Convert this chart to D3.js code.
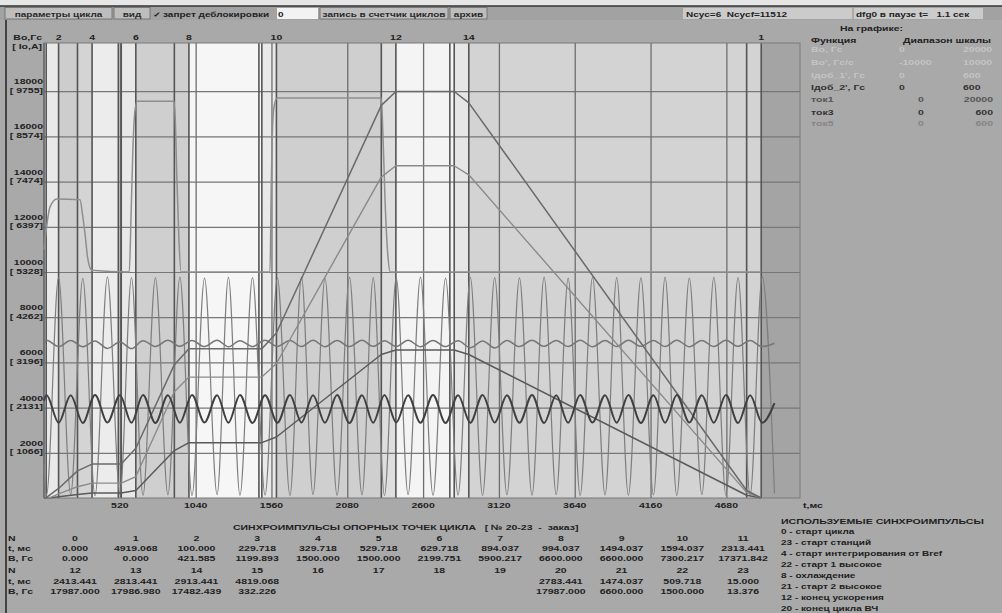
<!DOCTYPE html>
<html>
<head>
<meta charset="utf-8">
<script src="https://cdn.jsdelivr.net/npm/d3@7"></script>
<style>
  body { margin: 0; background: #a9a9a9; }
  svg text { font-family: "Liberation Sans", Arial, sans-serif; font-weight: bold; white-space: pre; }
</style>
</head>
<body>
<svg id="chart" width="1002" height="613"></svg>
<script>

////////////////////////// DATA //////////////////////////

// reference points of the cycle (table under the chart)
const syncN = [0, 1, 2, 3, 4, 5, 6, 7, 8, 9, 10, 11, 12, 13, 14, 15, 16, 17, 18, 19, 20, 21, 22, 23]
const syncT = [0.000, 4919.068, 100.000, 229.718, 329.718, 529.718, 629.718, 894.037, 994.037, 1494.037, 1594.037, 2313.441,
  2413.441, 2813.441, 2913.441, 4819.068, null, null, null, null, 2783.441, 1474.037, 509.718, 15.000]
const syncB = [0.000, 0.000, 421.585, 1199.893, 1500.000, 1500.000, 2199.751, 5900.217, 6600.000, 6600.000, 7300.217, 17371.842,
  17987.000, 17986.980, 17482.439, 332.226, null, null, null, null, 17987.000, 6600.000, 1500.000, 13.376]

// numbers written above the plot
const topMarks = [2, 4, 6, 8, 10, 12, 14, 1]

// axes
const xTicks = [520, 1040, 1560, 2080, 2600, 3120, 3640, 4160, 4680]
const yTicks = [2000, 4000, 6000, 8000, 10000, 12000, 14000, 16000, 18000]
const yCurrent = [1066, 2131, 3196, 4262, 5328, 6397, 7474, 8574, 9755]

// shaded intervals of the cycle
const bandFrom = [0, 100, 229.718, 329.718, 529.718, 629.718, 994.037, 1494.037, 1594.037, 2313.441, 2413.441, 2813.441, 2913.441, 4919.068]
const bandTo = [100, 229.718, 329.718, 529.718, 629.718, 994.037, 1494.037, 1594.037, 2313.441, 2413.441, 2813.441, 2913.441, 4919.068, 5185]

// Bo' pulses (scale -10000..10000)
const dBT = [0, 41, 87, 247, 265, 281, 300, 327, 585, 597, 610, 625, 640, 892, 900, 912, 925, 940,
  1550, 1558, 1568, 1580, 1600, 2313, 2325, 2340, 2360, 2375, 4919]
const dBV = [10970, 12870, 13230, 13200, 12500, 11700, 10600, 10080, 10000, 12500, 15500, 17200, 17560, 17560, 16800, 14000, 11500, 10000,
  10000, 13500, 16500, 17400, 17700, 17700, 16000, 13000, 10600, 10000, 10000]

// current curves
const rampT = [0, 41, 100, 230, 330, 530, 630, 894, 994, 1494, 1594, 2313, 2413, 2813, 2913, 4819, 4919]
const tok1V = [0, 20, 180, 500, 660, 660, 950, 4700, 5350, 5350, 5950, 14200, 14700, 14700, 14300, 250, 0]
const tok3V = [0, 10, 60, 160, 220, 220, 330, 2100, 2450, 2450, 2700, 6350, 6550, 6550, 6350, 120, 0]

// extrema of the oscillating signals
const waveT = [0, 17, 100, 183, 266, 350, 435, 521, 600, 679, 764, 850, 932, 1015, 1101, 1187, 1265, 1344, 1430, 1516,
  1601, 1687, 1766, 1845, 1927, 2010, 2095, 2181, 2258, 2335, 2416, 2497, 2582, 2668, 2754, 2840, 2924, 3008, 3091, 3175,
  3261, 3347, 3430, 3513, 3595, 3677, 3762, 3848, 3928, 4008, 4094, 4180, 4260, 4340, 4426, 4512, 4594, 4677, 4760, 4843, 4926, 5010]
const tok5V = [1500, 120, 9760, 150, 9720, 100, 9780, 160, 9750, 120, 9740, 140, 9770, 110, 9730, 150, 9760, 120, 9750, 130,
  9740, 110, 9770, 150, 9730, 120, 9760, 140, 9750, 110, 9740, 150, 9770, 120, 9730, 130, 9760, 110, 9750, 140,
  9740, 120, 9770, 150, 9730, 110, 9760, 130, 9750, 120, 9740, 140, 9770, 110, 9730, 150, 9760, 120, 9750, 130, 9780, 200]
const id2V = [6850, 6980, 6700, 6970, 6690, 6950, 6620, 6900, 6610, 6960, 6700, 6980, 6710, 6970, 6700, 6980, 6690, 6960, 6700, 6980,
  6710, 6970, 6700, 6980, 6690, 6970, 6700, 6980, 6710, 6960, 6700, 6980, 6690, 6970, 6700, 6960, 6650, 6950, 6640, 6970,
  6700, 6980, 6710, 6970, 6700, 6980, 6690, 6970, 6700, 6980, 6710, 6970, 6700, 6980, 6690, 6970, 6700, 6980, 6710, 6970, 6700, 6850]
const id1V = [4300, 4560, 3330, 4550, 3320, 4560, 3340, 4550, 3330, 4560, 3320, 4550, 3330, 4560, 3340, 4550, 3330, 4560, 3320, 4550,
  3330, 4560, 3340, 4550, 3330, 4560, 3320, 4550, 3330, 4560, 3340, 4550, 3330, 4560, 3320, 4550, 3330, 4560, 3340, 4550,
  3330, 4560, 3320, 4550, 3330, 4560, 3340, 4550, 3330, 4560, 3320, 4550, 3330, 4560, 3340, 4550, 3330, 4560, 3320, 4550, 3330, 4200]

// legend texts
const legendNames = ['Bo, Гс', "Bo', Гс/с", "Iдоб_1', Гс", "Iдоб_2', Гс", 'ток1', 'ток3', 'ток5']
const legendMin = ['0', '-10000', '0', '0', '0', '0', '0']
const legendMax = ['20000', '10000', '600', '600', '20000', '600', '600']
const usedPulses = ['0 - старт цикла', '23 - старт станций', '4 - старт интегрирования от Bref', '22 - старт 1 высокое',
  '8 - охлаждение', '21 - старт 2 высокое', '12 - конец ускорения', '20 - конец цикла ВЧ']


////////////////////////// STYLE //////////////////////////

const bandShade = ['#e9e9e9', '#cdcdcd', '#d4d4d4', '#ececec', '#e8e8e8', '#cfcfcf', '#f6f6f6', '#e9e9e9',
  '#cfcfcf', '#dedede', '#f4f4f4', '#e6e6e6', '#d3d3d3', '#a4a4a4']
const legendFill = ['#c4c4c4', '#c4c4c4', '#c4c4c4', '#333', '#555', '#333', '#858585']
const FS = 10.5
const SQUEEZE = 0.74


////////////////////////// SETUP //////////////////////////

const svg = d3.select('#chart')
const plotLeft = 44, plotRight = 800, plotTop = 43, plotBottom = 498

const xScale = d3.scaleLinear().domain([0, 5185]).range([plotLeft, plotRight])
const yScale = d3.scaleLinear().domain([0, 20000]).range([plotBottom, 46])

// text squeezed vertically like on the screenshot
const label = (g, x, y, str, anchor = 'start', fill = '#222', size = FS) =>
  g.append('text')
    .attr('transform', `translate(${x},${y}) scale(1,${SQUEEZE})`)
    .attr('text-anchor', anchor)
    .attr('fill', fill)
    .style('font-size', size + 'px')
    .text(str)

svg.append('rect').attr('width', 1002).attr('height', 613).attr('fill', '#a9a9a9')


////////////////////////// TOOLBAR //////////////////////////

svg.append('rect').attr('width', 1002).attr('height', 6).attr('fill', '#e6e6e6')
svg.append('line').attr('x1', 0).attr('x2', 1002).attr('y1', 6).attr('y2', 6).attr('stroke', '#333').attr('stroke-width', 1.5)
svg.append('rect').attr('x', 0).attr('y', 7).attr('width', 1002).attr('height', 13).attr('fill', '#a2a2a2')

const button = (x0, x1, txt, fill = '#bdbdbd') => {
  svg.append('rect').attr('x', x0).attr('y', 7.5).attr('width', x1 - x0).attr('height', 11.5)
    .attr('fill', fill).attr('stroke', '#6a6a6a').attr('stroke-width', 0.8)
  label(svg, (x0 + x1) / 2, 16.5, txt, 'middle', '#2a2a2a', 10)
}
button(5, 112, 'параметры цикла')
button(114, 150, 'вид')
button(320, 448, 'запись в счетчик циклов')
button(450, 487, 'архив')
svg.append('rect').attr('x', 277).attr('y', 8).attr('width', 41).attr('height', 11).attr('fill', '#f2f2f2')
label(svg, 153, 16.5, '✓', 'start', '#222', 10)
label(svg, 163, 16.5, 'запрет деблокировки', 'start', '#222', 10)
label(svg, 278, 16.5, '0', 'start', '#222', 10)

svg.append('rect').attr('x', 683).attr('y', 8).attr('width', 170).attr('height', 11).attr('fill', '#cbcbcb')
svg.append('rect').attr('x', 853).attr('y', 8).attr('width', 130).attr('height', 11).attr('fill', '#cbcbcb')
svg.append('line').attr('x1', 853).attr('x2', 853).attr('y1', 8).attr('y2', 19).attr('stroke', '#888')
label(svg, 686, 16.5, 'Ncyc=6  Ncycf=11512', 'start', '#222', 10)
label(svg, 856, 16.5, 'dfg0 в паузе t=   1.1 сек', 'start', '#222', 10)

// window border
svg.append('line').attr('x1', 6).attr('x2', 6).attr('y1', 20).attr('y2', 613).attr('stroke', '#222').attr('stroke-width', 1.5)


////////////////////////// PLOT //////////////////////////

const plot = svg.append('g')

// shaded intervals
plot.selectAll('.band')
  .data(bandFrom)
  .enter()
  .append('rect')
  .attr('class', 'band')
  .attr('x', (d) => xScale(d))
  .attr('y', plotTop)
  .attr('width', (d, i) => xScale(bandTo[i]) - xScale(d))
  .attr('height', plotBottom - plotTop)
  .attr('fill', (d, i) => bandShade[i])

// horizontal grid
plot.append('g')
  .attr('transform', `translate(${plotLeft},0)`)
  .call(d3.axisLeft(yScale).tickValues(yTicks).tickSize(-(plotRight - plotLeft)).tickFormat(''))
  .call((g) => g.select('.domain').remove())
  .selectAll('line').attr('stroke', '#777').attr('stroke-width', 1.2)

// vertical grid on time ticks
plot.append('g')
  .attr('transform', `translate(0,${plotBottom})`)
  .call(d3.axisBottom(xScale).tickValues(xTicks).tickSize(-(plotBottom - plotTop)).tickFormat(''))
  .call((g) => g.select('.domain').remove())
  .selectAll('line').attr('stroke', '#6e6e6e').attr('stroke-width', 1.3)

// sync pulse markers
plot.selectAll('.sync')
  .data(syncT.filter((t) => t !== null))
  .enter()
  .append('line')
  .attr('class', 'sync')
  .attr('x1', (d) => xScale(d))
  .attr('x2', (d) => xScale(d))
  .attr('y1', plotTop)
  .attr('y2', plotBottom)
  .attr('stroke', '#555')
  .attr('stroke-width', 1.6)

plot.append('rect')
  .attr('x', plotLeft).attr('y', plotTop)
  .attr('width', plotRight - plotLeft).attr('height', plotBottom - plotTop)
  .attr('fill', 'none').attr('stroke', '#7a7a7a').attr('stroke-width', 1)

// curves
const drawCurve = (times, values, color, width, curve) => {
  const line = d3.line()
    .x((d) => xScale(d[0]))
    .y((d) => yScale(d[1]))
    .curve(curve)
  plot.append('path')
    .datum(times.map((t, i) => [t, values[i]]))
    .attr('d', line)
    .attr('fill', 'none')
    .attr('stroke', color)
    .attr('stroke-width', width)
    .attr('stroke-linejoin', 'round')
}

const bPoints = syncT.map((t, i) => [t, syncB[i]]).filter((d) => d[0] !== null).sort((a, b) => d3.ascending(a[0], b[0]))

drawCurve(waveT, tok5V, '#7e7e7e', 1.2, d3.curveMonotoneX)
drawCurve(waveT, id2V, '#767676', 1.5, d3.curveMonotoneX)
drawCurve(dBT, dBV, '#8e8e8e', 1.5, d3.curveMonotoneX)
drawCurve(rampT, tok3V, '#5a5a5a', 1.5, d3.curveLinear)
drawCurve(rampT, tok1V, '#8a8a8a', 1.4, d3.curveLinear)
drawCurve(bPoints.map((d) => d[0]), bPoints.map((d) => d[1]), '#6a6a6a', 1.5, d3.curveLinear)
drawCurve(waveT, id1V, '#404040', 2, d3.curveMonotoneX)


////////////////////////// AXIS LABELS //////////////////////////

label(svg, 42, 40, 'Bo,Гс', 'end')
label(svg, 42, 49, '[ Io,A]', 'end')

yTicks.forEach((v, i) => {
  label(svg, 43, yScale(v) - 7, `${v}`, 'end')
  label(svg, 43, yScale(v) + 1.5, `[ ${yCurrent[i]}]`, 'end')
})

xTicks.forEach((v) => label(svg, xScale(v), 508, `${v}`, 'middle'))
label(svg, 803, 508, 't,мс', 'start')

topMarks.forEach((n) => label(svg, xScale(syncT[n]), 40, `${n}`, 'middle'))


////////////////////////// LEGEND //////////////////////////

label(svg, 840, 31, 'На графике:')
label(svg, 811, 43, 'Функция')
label(svg, 903, 43, 'Диапазон шкалы')
legendNames.forEach((name, i) => {
  const yy = [52, 65, 78, 90, 102, 115, 126][i]
  label(svg, 811, yy, name, 'start', legendFill[i])
  label(svg, i < 4 ? 899 : 918, yy, legendMin[i], 'start', legendFill[i])
  if (i < 4) label(svg, 963, yy, legendMax[i], 'start', legendFill[i])
  else label(svg, 993, yy, legendMax[i], 'end', legendFill[i])
})

label(svg, 781, 524, 'ИСПОЛЬЗУЕМЫЕ СИНХРОИМПУЛЬСЫ', 'start', '#1e1e1e', 10.6)
usedPulses.forEach((txt, i) => label(svg, 781, 534 + i * 11, txt, 'start', '#1e1e1e', 10))


////////////////////////// TABLE //////////////////////////

label(svg, 233, 530, 'СИНХРОИМПУЛЬСЫ ОПОРНЫХ ТОЧЕК ЦИКЛА   [ № 20-23  -  заказ]')

const colX = d3.scaleLinear().domain([0, 11]).range([75, 743])
const rowY = [[541, 551, 561], [573, 584, 594]]
const fmt = (v) => (v === null ? '' : v.toFixed(3))

rowY.forEach((ys) => {
  label(svg, 8, ys[0], 'N')
  label(svg, 8, ys[1], 't, мс')
  label(svg, 8, ys[2], 'B, Гс')
})

syncN.forEach((n, i) => {
  const ys = rowY[Math.floor(i / 12)]
  const cx = colX(i % 12)
  label(svg, cx, ys[0], `${n}`, 'middle')
  label(svg, cx, ys[1], fmt(syncT[i]), 'middle')
  label(svg, cx, ys[2], fmt(syncB[i]), 'middle')
})

</script>
</body>
</html>
